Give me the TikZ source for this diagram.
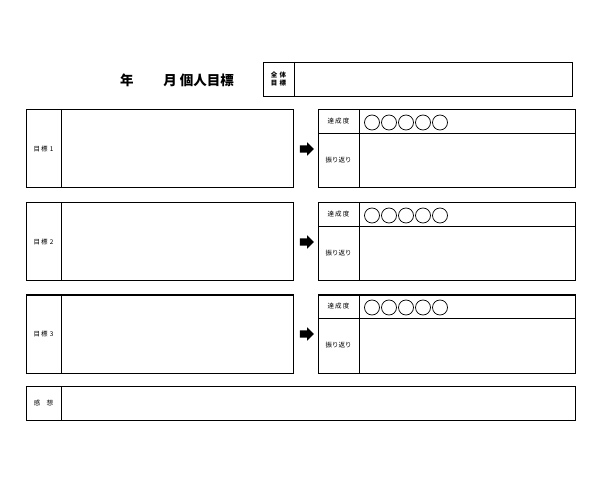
\documentclass[tikz,border=0pt]{standalone}
\usepackage{fontspec}
\setmainfont{Noto Sans CJK JP}
\usetikzlibrary{shapes.arrows}
\tikzset{
 box/.style={draw,line width=1pt},
 sep/.style={line width=0.6pt},
 lab/.style={font=\fontsize{6.5}{7.5}\selectfont},
 dot/.style={draw,circle,line width=0.7pt,minimum size=15pt,inner sep=0pt},
 go/.style={single arrow,fill=black,minimum height=14pt,minimum width=13pt,single arrow head extend=3pt,inner xsep=1pt,inner ysep=3.5pt}
}
\begin{document}
\begin{tikzpicture}[x=1pt,y=-1pt]
 \useasboundingbox (0,0) rectangle (600,497);
 % title and overall goal
 \node[font=\bfseries\fontsize{13.5}{15}\selectfont] (title) at (177,80) {年\hspace{2.2em}月 個人目標};
 \draw[box,line width=0.7pt] (263,62) rectangle (572,96);
 \draw[sep] (294,62) -- (294,96);
 \node[font=\bfseries\fontsize{6.5}{8}\selectfont,align=center] (all) at (278.5,79) {全\,\,体\\目\,\,標};
 % three goals
 \foreach \i/\y in {1/110,2/203,3/295}{
  \draw[box] (26,\y) rectangle (293,\y+78);
  \draw[sep] (61,\y) -- (61,\y+78);
  \node[lab] (goal\i) at (43.5,\y+39) {目\,標\,\,\i};
  \node[go] (arr\i) at (305,\y+39) {};
  \draw[box] (318,\y) rectangle (575,\y+78);
  \draw[sep] (359,\y) -- (359,\y+78);
  \draw[sep] (318,\y+23) -- (575,\y+23);
  \node[lab] (rate\i) at (338.5,\y+11.5) {達\,成\,度};
  \node[lab] (look\i) at (338.5,\y+50.5) {振り返り};
  \foreach \k in {0,...,4}
   \node[dot] (c\i\k) at (372+17*\k,\y+12.5) {};
 }
 % impressions
 \draw[box,line width=0.7pt] (26,386) rectangle (575,420);
 \draw[sep] (61,386) -- (61,420);
 \node[lab] (feel) at (43.5,403) {感\hspace{1em}想};
\end{tikzpicture}
\end{document}
